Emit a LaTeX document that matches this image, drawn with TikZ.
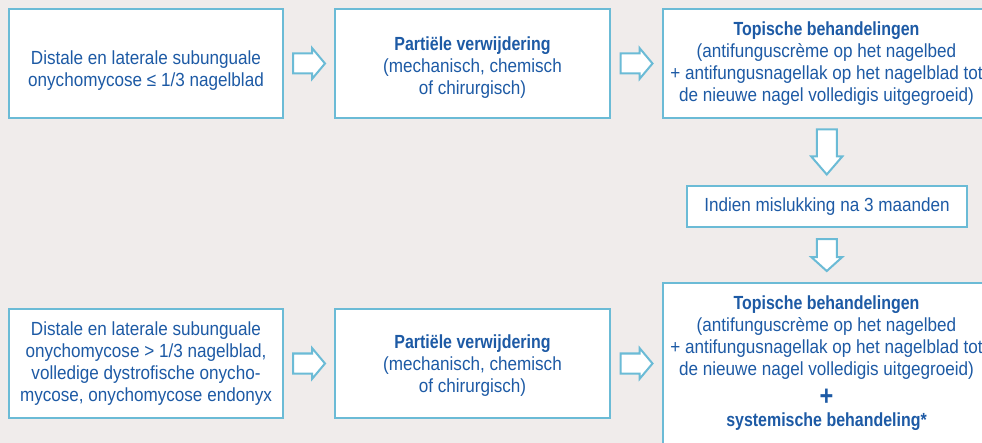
\documentclass[tikz,border=0pt]{standalone}
\usepackage{fontspec}
\setmainfont{Liberation Sans}[FakeStretch=0.9,BoldFeatures={FakeStretch=0.84}]
\usetikzlibrary{calc,positioning}
\definecolor{boxblue}{HTML}{6BBBD6}
\definecolor{textblue}{HTML}{1D5AA5}
\definecolor{bggray}{HTML}{F0ECEB}
\newcommand{\topstrut}[1]{\rule{0pt}{#1}}

\begin{document}
\begin{tikzpicture}[x=1pt,y=1pt,
  box/.style={draw=boxblue,line width=2.2pt,fill=white,text=textblue,align=center,
    font=\fontsize{19}{22}\selectfont,inner sep=0pt},
  arrowline/.style={draw=boxblue,line width=2pt,fill=white,line join=miter},
  pics/blockarr/.style n args={2}{code={
    \draw[arrowline] (-#1/2,-10) -- (#1/2-#2,-10) -- (#1/2-#2,-15.5) -- (#1/2,0)
      -- (#1/2-#2,15.5) -- (#1/2-#2,10) -- (-#1/2,10) -- cycle;}}]
\fill[bggray] (0,0) rectangle (982,-443);
\useasboundingbox (0,0) rectangle (982,-443);
\clip (0,0) rectangle (982,-443);
% bovenste rij
\coordinate (P1) at (146,-63.5);
\coordinate (P2) at (472.5,-63.5);
\coordinate (P3) at (826.5,-63.5);
\coordinate (PI) at (827,-206.5);
\node[box,minimum width=274,minimum height=109] (b1) at (P1)
  {\topstrut{28pt}Distale en laterale subunguale\\onychomycose ≤ 1/3 nagelblad};
\node[box,minimum width=275,minimum height=109] (b2) at (P2)
  {\topstrut{22pt}\textbf{Partiële verwijdering}\\(mechanisch, chemisch\\of chirurgisch)};
\node[box,minimum width=327,minimum height=109] (b3) at (P3)
  {\textbf{Topische behandelingen}\\(antifunguscrème op het nagelbed\\+ antifungusnagellak op het nagelblad tot\\de nieuwe nagel volledigis uitgegroeid)};
\node[box,minimum width=280,minimum height=41] (ind) at (PI)
  {Indien mislukking na 3 maanden};
% onderste rij
\coordinate (Q1) at (146,-363.5);
\coordinate (Q2) at (472.5,-363.5);
\coordinate (Q3) at (826.5,-282);
\node[box,minimum width=274,minimum height=109] (b4) at (Q1)
  {Distale en laterale subunguale\\onychomycose > 1/3 nagelblad,\\volledige dystrofische onycho-\\mycose, onychomycose endonyx};
\node[box,minimum width=275,minimum height=109] (b5) at (Q2)
  {\topstrut{18pt}\textbf{Partiële verwijdering}\\(mechanisch, chemisch\\of chirurgisch)};
\node[box,minimum width=327,anchor=north,inner ysep=13pt,text depth=40pt] (b6) at (Q3)
  {\textbf{Topische behandelingen}\\(antifunguscrème op het nagelbed\\+ antifungusnagellak op het nagelblad tot\\de nieuwe nagel volledigis uitgegroeid)\\[8pt]
   {\bfseries\fontsize{28}{22}\selectfont +}\\[-1pt]\textbf{systemische behandeling*}};
% pijlen
\pic at ($(b1.east)!.5!(b2.west)$) {blockarr={32}{13}};
\pic at ($(b2.east)!.5!(b3.west)$) {blockarr={32}{13}};
\pic at ($(b4.east)!.5!(b5.west)$) {blockarr={32}{13}};
\pic at ($(b5.east)!.5!(b6.west |- b5.east)$) {blockarr={32}{13}};
\pic[rotate=-90] at ($(b3.south)!.5!(ind.north)$) {blockarr={45}{18}};
\pic[rotate=-90] at ($(ind.south)!.5!(b6.north)$) {blockarr={32}{14}};
\end{tikzpicture}
\end{document}
